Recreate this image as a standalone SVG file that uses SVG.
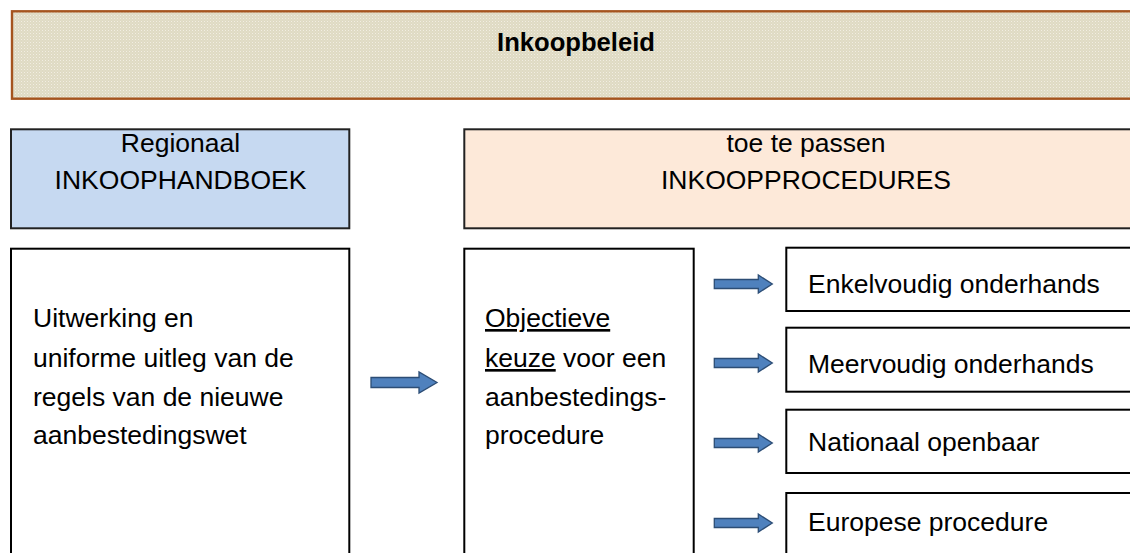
<svg xmlns="http://www.w3.org/2000/svg" width="1130" height="553" viewBox="0 0 1130 553">
<defs>
<pattern id="dots" width="3" height="3" patternUnits="userSpaceOnUse">
<rect width="3" height="3" fill="#DFDAC3"/>
<rect x="0" y="0" width="1" height="1" fill="#F1EEE2"/>
<rect x="1.5" y="1.5" width="1" height="1" fill="#EAE7D6"/>
</pattern>
<path id="arr" d="M0,-4.5 H44 V-9 L58,0 L44,9 V4.5 H0 Z"/>
</defs>
<style>
.t{font-family:"Liberation Sans",Arial,sans-serif;font-size:26.5px;fill:#000}
.c{text-anchor:middle}
.b{font-weight:bold;font-size:25.6px}
.box{fill:#fff;stroke:#000;stroke-width:2}
.arrow{fill:#4F81BD;stroke:#2C4D75;stroke-width:1.3}
</style>
<g id="inkoopbeleid">
<rect x="12" y="11.3" width="1140" height="87.4" fill="url(#dots)" stroke="#A5541E" stroke-width="2.4"/>
<text class="t c b" x="576" y="51">Inkoopbeleid</text>
</g>
<g id="regionaal">
<rect x="11" y="129.3" width="338.3" height="99" fill="#C6D9F1" stroke="#222" stroke-width="2"/>
<text class="t c" x="180.5" y="152">Regionaal</text>
<text class="t c" x="180.5" y="189">INKOOPHANDBOEK</text>
</g>
<g id="procedures">
<rect x="464.3" y="129.3" width="690" height="99" fill="#FDE9D9" stroke="#222" stroke-width="2"/>
<text class="t c" x="806" y="152">toe te passen</text>
<text class="t c" x="806" y="189">INKOOPPROCEDURES</text>
</g>
<g id="uitwerking">
<rect class="box" x="11" y="248.7" width="338.3" height="320"/>
<text class="t" x="33" y="327">Uitwerking en</text>
<text class="t" x="33" y="367">uniforme uitleg van de</text>
<text class="t" x="33" y="406">regels van de nieuwe</text>
<text class="t" x="33" y="444">aanbestedingswet</text>
</g>
<g id="keuze">
<rect class="box" x="464.3" y="248.7" width="229.4" height="320"/>
<text class="t" x="485" y="327"><tspan text-decoration="underline">Objectieve</tspan></text>
<text class="t" x="485" y="367"><tspan text-decoration="underline">keuze</tspan> voor een</text>
<text class="t" x="485" y="406">aanbestedings-</text>
<text class="t" x="485" y="444">procedure</text>
</g>
<g id="enkelvoudig">
<rect class="box" x="786.3" y="247.7" width="380" height="63.3"/>
<text class="t" x="808" y="293">Enkelvoudig onderhands</text>
</g>
<g id="meervoudig">
<rect class="box" x="786.3" y="327.7" width="380" height="64"/>
<text class="t" x="808" y="373">Meervoudig onderhands</text>
</g>
<g id="nationaal">
<rect class="box" x="786.3" y="409.7" width="380" height="63.3"/>
<text class="t" x="808" y="451">Nationaal openbaar</text>
</g>
<g id="europees">
<rect class="box" x="786.3" y="493" width="380" height="80"/>
<text class="t" x="808" y="531">Europese procedure</text>
</g>
<g id="connectors">
<path class="arrow" d="M371,377.5 H419 V372 L437,382.5 L419,393 V387.5 H371 Z"/>
<use href="#arr" class="arrow" x="714.3" y="284"/>
<use href="#arr" class="arrow" x="714.3" y="363"/>
<use href="#arr" class="arrow" x="714.3" y="443"/>
<use href="#arr" class="arrow" x="714.3" y="523"/>
</g>
</svg>
